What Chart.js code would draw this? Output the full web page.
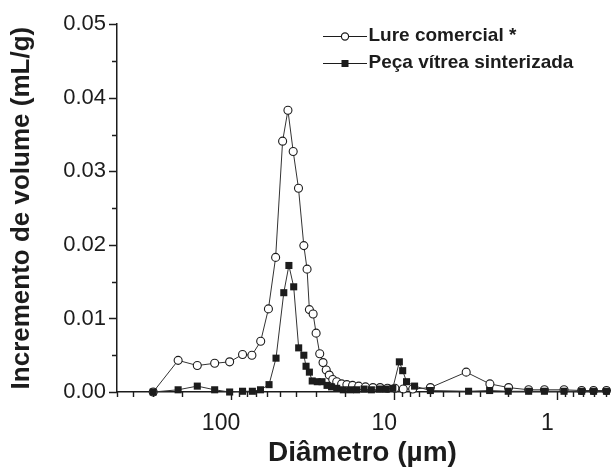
<!DOCTYPE html>
<html>
<head>
<meta charset="utf-8">
<script src="https://cdn.jsdelivr.net/npm/chart.js@4.4.1/dist/chart.umd.min.js"></script>
<style>
  html, body { margin: 0; padding: 0; background: #fff; }
  #wrap { width: 613px; height: 470px; }
</style>
</head>
<body>
<div id="wrap"><canvas id="poreChart" width="613" height="470"></canvas></div>
<script>
// pore size distribution
const lureDiam = [300, 211, 161, 126, 102, 85, 74.5, 65.8, 59, 53.3, 48.3, 44.8, 41.6, 38.6, 35.8, 34.2, 33.1, 31.4, 30.1, 28.6, 27.3, 26.1, 25.0, 23.8, 22.5, 21.0, 19.5, 18.0, 16.5, 15.0, 13.5, 12.2, 11.0, 9.9, 8.8, 7.7, 6.0, 3.62, 2.59, 1.99, 1.5, 1.2, 0.91, 0.71, 0.6, 0.5];
const lureVol = [0, 0.0043, 0.0036, 0.0039, 0.0041, 0.0051, 0.0050, 0.0069, 0.0113, 0.0183, 0.0341, 0.0383, 0.0327, 0.0277, 0.0199, 0.0167, 0.0112, 0.0106, 0.0080, 0.0052, 0.0040, 0.0030, 0.0023, 0.0017, 0.0014, 0.0011, 0.0010, 0.0009, 0.0008, 0.0007, 0.0006, 0.0006, 0.0005, 0.0005, 0.0004, 0.0004, 0.0006, 0.0027, 0.0011, 0.0006, 0.0003, 0.0003, 0.0003, 0.0002, 0.0002, 0.0002];

const pecaDiam = [300, 211, 161, 126, 102, 85, 74, 66, 58.5, 53, 47.5, 44.2, 41.3, 38.5, 35.8, 34.7, 33.1, 31.8, 29.6, 27.7, 25.8, 24.2, 22.5, 20.5, 18.6, 17, 15.3, 13.8, 12.3, 11.2, 10.2, 9.3, 8.87, 8.4, 7.5, 6.0, 3.5, 2.6, 2.0, 1.5, 1.2, 0.91, 0.71, 0.6, 0.5];
const pecaVol = [0, 0.0003, 0.0008, 0.0003, 0.0000, 0.0001, 0.0001, 0.0003, 0.0010, 0.0046, 0.0135, 0.0172, 0.0143, 0.0060, 0.0050, 0.0035, 0.0027, 0.0015, 0.0014, 0.0014, 0.0009, 0.0007, 0.0005, 0.0003, 0.0003, 0.0003, 0.0004, 0.0003, 0.0004, 0.0004, 0.0005, 0.0041, 0.0029, 0.0014, 0.0008, 0.0002, 0.0001, 0.0002, 0.0001, 0.0001, 0.0001, 0.0001, 0.0001, 0.0001, 0.0001];

const xLabelTicks = [100, 10, 1];
const xTickMarks = [500, 400, 300, 200, 100, 90, 80, 70, 60, 50, 40, 30, 20, 10, 9, 8, 7, 6, 5, 4, 3, 2, 1, 0.9, 0.8, 0.7, 0.6, 0.5];
const yLabelTicks = [0, 0.01, 0.02, 0.03, 0.04, 0.05];
const yTickMarks = [0, 0.005, 0.01, 0.015, 0.02, 0.025, 0.03, 0.035, 0.04, 0.045, 0.05];

const ink = "#1c1c1c";
Chart.defaults.font.family = "'Liberation Sans', Arial, sans-serif";
Chart.defaults.color = ink;

function toPoints(xs, ys) {
  return xs.map((x, i) => ({ x: x, y: ys[i] }));
}

// little "-o-" / "-■-" pictures for the legend
function legendSymbol(kind) {
  const c = document.createElement("canvas");
  c.width = 44;
  c.height = 14;
  const g = c.getContext("2d");
  g.strokeStyle = ink;
  g.lineWidth = 1;
  g.beginPath();
  g.moveTo(0, 7.5);
  g.lineTo(44, 7.5);
  g.stroke();
  if (kind === "circle") {
    g.fillStyle = "#fff";
    g.lineWidth = 1.2;
    g.beginPath();
    g.arc(22, 7.5, 3.6, 0, Math.PI * 2);
    g.fill();
    g.stroke();
  } else {
    g.fillStyle = ink;
    g.fillRect(18.5, 4, 7, 7);
  }
  return c;
}

// axis tick marks, major longer than minor, pointing outward
const tickMarks = {
  id: "tickMarks",
  afterDraw(chart) {
    const ctx = chart.ctx;
    const xs = chart.scales.x;
    const ys = chart.scales.y;
    ctx.save();
    ctx.strokeStyle = ink;
    ctx.lineWidth = 1.4;
    ctx.beginPath();
    xTickMarks.forEach(v => {
      const px = Math.round(xs.getPixelForValue(v)) + 0.5;
      const len = xLabelTicks.includes(v) ? 8 : 5;
      ctx.moveTo(px, xs.top);
      ctx.lineTo(px, xs.top + len);
    });
    yTickMarks.forEach((v, i) => {
      const py = Math.round(ys.getPixelForValue(v)) + 0.5;
      const len = i % 2 === 0 ? 8 : 5;
      ctx.moveTo(ys.right, py);
      ctx.lineTo(ys.right - len, py);
    });
    ctx.stroke();
    ctx.restore();
  }
};

// put the legend box in the upper right of the plot
const legendSpot = {
  id: "legendSpot",
  afterUpdate(chart) {
    const lg = chart.legend;
    lg.left = 323;
    lg.top = 18.5;
    lg.right = 613;
    lg.bottom = 100;
    lg.width = lg.right - lg.left;
    lg.height = lg.bottom - lg.top;
  }
};

const ctx = document.getElementById("poreChart").getContext("2d");

const poreChart = new Chart(ctx, {
  type: "line",
  data: {
    datasets: [
      {
        label: "Lure comercial *",
        data: toPoints(lureDiam, lureVol),
        order: 1,
        borderColor: "#333",
        borderWidth: 1,
        pointStyle: "circle",
        pointRadius: 4,
        pointBorderWidth: 1.1,
        pointBackgroundColor: "#fff",
        pointBorderColor: ink,
        tension: 0,
        clip: false,
      },
      {
        label: "Peça vítrea sinterizada",
        data: toPoints(pecaDiam, pecaVol),
        order: 0,
        borderColor: "#333",
        borderWidth: 1,
        pointStyle: "rect",
        pointRadius: 5,
        pointBorderWidth: 0,
        pointBackgroundColor: ink,
        pointBorderColor: ink,
        tension: 0,
        clip: false,
      },
    ],
  },
  options: {
    responsive: false,
    animation: false,
    layout: { padding: { top: 23, right: 0, left: 0, bottom: 0 } },
    scales: {
      x: {
        type: "logarithmic",
        reverse: true,
        min: 0.49,
        max: 500,
        grid: { display: false, drawTicks: false },
        border: { display: true, color: ink, width: 1.5 },
        afterBuildTicks: scale => {
          scale.ticks = xLabelTicks.map(v => ({ value: v }));
        },
        afterFit: scale => {
          scale.height = 78;
        },
        ticks: {
          padding: 18,
          labelOffset: -10,
          font: { size: 23 },
          color: ink,
          autoSkip: false,
          maxRotation: 0,
          callback: v => String(v),
        },
        title: {
          display: true,
          text: "Diâmetro (µm)",
          font: { size: 28, weight: "bold" },
          color: ink,
          padding: { top: 0, bottom: 0 },
        },
      },
      y: {
        min: 0,
        max: 0.05,
        grid: { display: false, drawTicks: false },
        border: { display: true, color: ink, width: 1.5 },
        afterBuildTicks: scale => {
          scale.ticks = yLabelTicks.map(v => ({ value: v }));
        },
        afterFit: scale => {
          scale.width = 117;
        },
        ticks: {
          padding: 11,
          font: { size: 22 },
          color: ink,
          callback: v => v.toFixed(2),
        },
        title: {
          display: true,
          text: "Incremento de volume (mL/g)",
          font: { size: 26, weight: "bold" },
          color: ink,
          padding: { top: 6, bottom: 0 },
        },
      },
    },
    plugins: {
      legend: {
        position: "chartArea",
        align: "start",
        labels: {
          usePointStyle: true,
          pointStyleWidth: 28,
          padding: 8,
          color: ink,
          font: { size: 19, weight: "bold" },
          generateLabels: () => [
            { text: "Lure comercial *", pointStyle: legendSymbol("circle"), datasetIndex: 0, lineWidth: 0, fillStyle: "#fff", strokeStyle: ink, fontColor: ink },
            { text: "Peça vítrea sinterizada", pointStyle: legendSymbol("rect"), datasetIndex: 1, lineWidth: 0, fillStyle: ink, strokeStyle: ink, fontColor: ink },
          ],
        },
      },
      tooltip: { enabled: false },
    },
  },
  plugins: [tickMarks, legendSpot],
});
</script>
</body>
</html>
